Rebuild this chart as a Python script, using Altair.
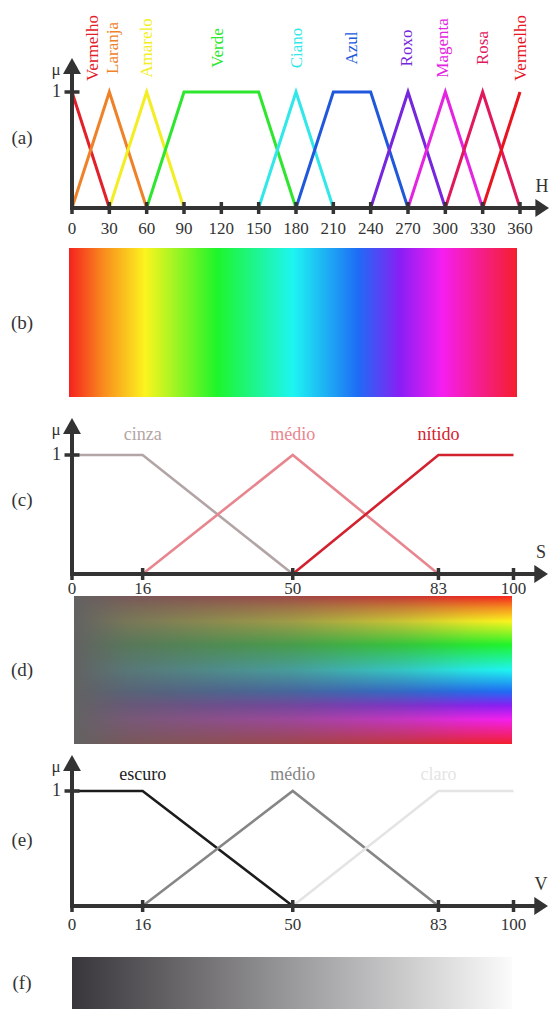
import altair as alt
import pandas as pd

FONT = "'Liberation Serif', 'Times New Roman', serif"
INK = "#333333"

# ---------------- H: hue membership functions ----------------
hue_names = ["Vermelho", "Laranja", "Amarelo", "Verde", "Ciano",
             "Azul", "Roxo", "Magenta", "Rosa", "Vermelho"]
hue_colors = ["#e3202a", "#ef8228", "#f2ee22", "#2ee62e", "#30e8e8",
              "#2058dc", "#7626dc", "#e424e0", "#e0185c", "#e8141e"]
hue_points = [[0, 30], [0, 30, 60], [30, 60, 90], [60, 90, 150, 180],
              [150, 180, 210], [180, 210, 240, 270], [240, 270, 300],
              [270, 300, 330], [300, 330, 360], [330, 360]]
hue_grades = [[1, 0], [0, 1, 0], [0, 1, 0], [0, 1, 1, 0], [0, 1, 0],
              [0, 1, 1, 0], [0, 1, 0], [0, 1, 0], [0, 1, 0], [0, 1]]
hue_label_pos = [17, 33, 60, 117, 181, 225, 269, 298, 330, 361]
hue_ticks = [0, 30, 60, 90, 120, 150, 180, 210, 240, 270, 300, 330, 360]

# ---------------- S and V membership functions ----------------
sv_ticks = [0, 16, 50, 83, 100]
sv_points = [[0, 16, 50], [16, 50, 83], [50, 83, 100]]
sv_grades = [[1, 1, 0], [0, 1, 0], [0, 1, 1]]
sv_label_pos = [16, 50, 83]
sat_names = ["cinza", "médio", "nítido"]
sat_colors = ["#b3a5a5", "#e8868f", "#d3222f"]
val_names = ["escuro", "médio", "claro"]
val_colors = ["#1c1c1c", "#868686", "#e4e4e4"]

# ---------------- colour ramps ----------------
spectrum_offsets = [0, 0.08, 0.17, 0.33, 0.5, 0.645, 0.74, 0.833, 1]
spectrum_colors = ["#f5221e", "#f8901e", "#fcf41e", "#1ef52a", "#1ef5f2",
                   "#1e6cf5", "#8a1ef5", "#f51ef0", "#f51e2c"]
veil_offsets = [0, 0.12, 0.5, 0.75, 0.9, 1]
veil_alpha = [1, 0.86, 0.6, 0.33, 0.11, 0]
gray_ramp = ["#38363a", "#fbfbfb"]

UP = "M0,0L-0.56,1L0.56,1Z"
RIGHT = "M0,0L-0.85,-0.56L-0.85,0.56Z"


def lin(domain, rng):
    return alt.Scale(domain=domain, range=rng, nice=False, zero=False)


def membership_panel(points, grades, names, colors, label_pos, ticks, xs, ys,
                     x_tip, x_stop, y_tip, y_stop, var, tag, tag_mu,
                     line_w, tick_dy, name_size, name_style):
    def X(f):
        return alt.X(f, scale=xs, axis=None)

    def Y(f):
        return alt.Y(f, scale=ys, axis=None)

    rows = []
    for i, (px, pm) in enumerate(zip(points, grades)):
        for k, (xv, mv) in enumerate(zip(px, pm)):
            rows.append({"sid": i, "k": k, "x": xv, "mu": mv, "color": colors[i]})
    curves = pd.DataFrame(rows)

    lines = alt.Chart(curves).mark_line(strokeWidth=line_w).encode(
        X("x:Q"), Y("mu:Q"), detail="sid:N", order="k:Q",
        color=alt.Color("color:N", scale=None))

    frame = pd.DataFrame({"x": [0, 0], "x2": [x_stop, 0],
                          "y": [0, 0], "y2": [0, y_stop]})
    axes = alt.Chart(frame).mark_rule(color=INK, strokeWidth=4, strokeCap="square").encode(
        X("x:Q"), alt.X2("x2:Q"), Y("y:Q"), alt.Y2("y2:Q"))

    tick_df = pd.DataFrame({"x": ticks, "y": [0] * len(ticks),
                            "label": [str(t) for t in ticks]})
    xticks = alt.Chart(tick_df).mark_tick(
        orient="vertical", size=12, thickness=3.5, color=INK, opacity=1
    ).encode(X("x:Q"), Y("y:Q"))
    xlabels = alt.Chart(tick_df).mark_text(
        font=FONT, fontSize=17, color=INK, dy=tick_dy
    ).encode(X("x:Q"), Y("y:Q"), text="label:N")

    one = pd.DataFrame({"x": [0], "y": [1], "label": ["1"]})
    ytick = alt.Chart(one).mark_tick(
        orient="horizontal", size=15, thickness=3.5, color=INK, opacity=1
    ).encode(X("x:Q"), Y("y:Q"))
    ylabel = alt.Chart(one).mark_text(
        font=FONT, fontSize=18, color=INK, align="right", dx=-11
    ).encode(X("x:Q"), Y("y:Q"), text="label:N")

    tip_x = pd.DataFrame({"x": [x_tip], "y": [0], "label": [var]})
    tip_y = pd.DataFrame({"x": [0], "y": [y_tip], "label": ["μ"]})
    arrow_x = alt.Chart(tip_x).mark_point(
        shape=RIGHT, size=1024, filled=True, color=INK, opacity=1
    ).encode(X("x:Q"), Y("y:Q"))
    arrow_y = alt.Chart(tip_y).mark_point(
        shape=UP, size=1024, filled=True, color=INK, opacity=1
    ).encode(X("x:Q"), Y("y:Q"))
    var_text = alt.Chart(tip_x).mark_text(
        font=FONT, fontSize=18, color=INK, dx=-7, dy=-21
    ).encode(X("x:Q"), Y("y:Q"), text="label:N")
    mu_text = alt.Chart(tip_y).mark_text(
        font=FONT, fontSize=17, color=INK, dx=-16, dy=12
    ).encode(X("x:Q"), Y("y:Q"), text="label:N")

    name_df = pd.DataFrame({"x": label_pos, "y": [1] * len(names),
                            "name": names, "color": colors})
    name_text = alt.Chart(name_df).mark_text(
        font=FONT, fontSize=name_size, **name_style
    ).encode(X("x:Q"), Y("y:Q"), text="name:N",
             color=alt.Color("color:N", scale=None))

    tag_df = pd.DataFrame({"x": [0], "y": [tag_mu], "label": [tag]})
    tag_text = alt.Chart(tag_df).mark_text(
        font=FONT, fontSize=19, color=INK, dx=-50
    ).encode(X("x:Q"), Y("y:Q"), text="label:N")

    return alt.layer(lines, axes, xticks, ytick, arrow_x, arrow_y,
                     xlabels, ylabel, var_text, mu_text, name_text, tag_text)


def ramp_panel(fills, x_domain, xs, ys, tag, tag_dx):
    def X(f):
        return alt.X(f, scale=xs, axis=None)

    def Y(f):
        return alt.Y(f, scale=ys, axis=None)

    box = pd.DataFrame({"x": [x_domain[0]], "x2": [x_domain[1]], "y": [0], "y2": [1]})
    layers = [
        alt.Chart(box).mark_rect(color=g).encode(
            X("x:Q"), alt.X2("x2:Q"), Y("y:Q"), alt.Y2("y2:Q"))
        for g in fills
    ]
    tag_df = pd.DataFrame({"x": [x_domain[0]], "y": [0.5], "label": [tag]})
    layers.append(alt.Chart(tag_df).mark_text(
        font=FONT, fontSize=19, color=INK, dx=tag_dx
    ).encode(X("x:Q"), Y("y:Q"), text="label:N"))
    return alt.layer(*layers)


def gradient(offsets, colors, horizontal=True):
    return alt.LinearGradient(
        gradient="linear",
        stops=[alt.GradientStop(offset=o, color=c) for o, c in zip(offsets, colors)],
        x1=0, y1=0, x2=1 if horizontal else 0, y2=0 if horizontal else 1)


spectrum_h = gradient(spectrum_offsets, spectrum_colors, True)
spectrum_v = gradient(spectrum_offsets, spectrum_colors, False)
veil = gradient(veil_offsets, [f"rgba(98,98,98,{a})" for a in veil_alpha], True)
grays = gradient([0, 1], gray_ramp, True)

panel_a = membership_panel(
    hue_points, hue_grades, hue_names, hue_colors, hue_label_pos, hue_ticks,
    lin([0, 360], [72, 520]), lin([0, 1], [208, 92]),
    x_tip=383.3, x_stop=376.9, y_tip=1.293, y_stop=1.224,
    var="H", tag="(a)", tag_mu=0.6, line_w=3, tick_dy=21,
    name_size=17, name_style={"angle": 270, "dx": 44})

panel_b = ramp_panel([spectrum_h], [0, 360],
                     lin([0, 360], [69, 517]), lin([0, 1], [248, 397]),
                     "(b)", -47)

panel_c = membership_panel(
    sv_points, sv_grades, sat_names, sat_colors, sv_label_pos, sv_ticks,
    lin([0, 100], [72, 513.5]), lin([0, 1], [574, 455]),
    x_tip=107.8, x_stop=106.0, y_tip=1.311, y_stop=1.244,
    var="S", tag="(c)", tag_mu=0.62, line_w=2.6, tick_dy=15,
    name_size=18, name_style={"dy": -20})

panel_d = ramp_panel([spectrum_v, veil], [0, 100],
                     lin([0, 100], [74, 512]), lin([0, 1], [596, 744]),
                     "(d)", -52)

panel_e = membership_panel(
    sv_points, sv_grades, val_names, val_colors, sv_label_pos, sv_ticks,
    lin([0, 100], [72, 513.5]), lin([0, 1], [906, 791]),
    x_tip=107.8, x_stop=106.0, y_tip=1.313, y_stop=1.243,
    var="V", tag="(e)", tag_mu=0.57, line_w=2.6, tick_dy=19,
    name_size=18, name_style={"dy": -16})

panel_f = ramp_panel([grays], [0, 100],
                     lin([0, 100], [72, 512]), lin([0, 1], [957, 1009]),
                     "(f)", -50)

chart = alt.layer(
    panel_a, panel_b, panel_c, panel_d, panel_e, panel_f
).resolve_scale(
    x="independent", y="independent"
).properties(
    width=549, height=1009, padding=0,
    autosize=alt.AutoSizeParams(type="none"),
    background="white",
).configure_view(stroke=None)

chart.save("out.html", embed_options={"renderer": "svg", "actions": False})
